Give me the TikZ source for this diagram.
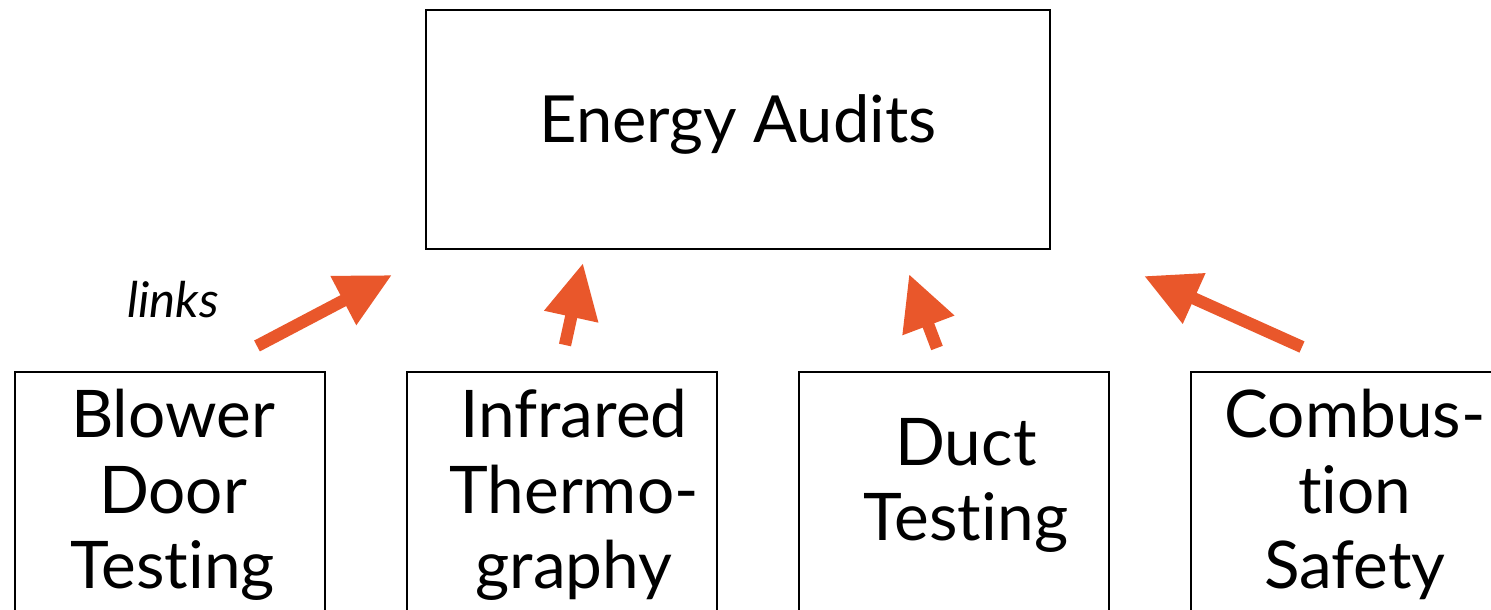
\documentclass[tikz,border=0pt]{standalone}
\usepackage{fontspec}
\setmainfont{Lato}[Ligatures=NoCommon]
\usetikzlibrary{arrows.meta}
\definecolor{linkorange}{HTML}{E9572B}
\newcommand{\ind}[1]{\hspace*{#1}}

\begin{document}
\begin{tikzpicture}

	\useasboundingbox (0,0) rectangle (14.91,-6.10);
	\clip (0,0) rectangle (14.91,-6.10);

	\tikzset{box/.style = {shape=rectangle,draw,line width=0.6pt,inner sep=0pt,align=center}}
	\tikzset{method/.style = {box,minimum width=3.10cm,minimum height=2.45cm,font=\fontsize{18.7}{21.6}\selectfont,text height=2.04cm,text depth=0.15cm}}
	\tikzset{link/.style = {-{Triangle[length=0.55cm,width=0.52cm]},line width=3.5pt,draw=linkorange}}

	\node[box,minimum width=6.24cm,minimum height=2.39cm,font=\fontsize{18.5}{22}\selectfont,text height=0.46cm,text depth=0.19cm] (audits) at (7.38,-1.295) {Energy Audits};

	\node[method] (blower) at (1.70,-4.945) {\ind{.06cm}Blower\\\ind{.06cm}Door\\\ind{.06cm}Testing};
	\node[method] (infrared) at (5.62,-4.945) {\ind{.24cm}Infrared\\\ind{.24cm}Thermo-\\\ind{.24cm}graphy};
	\node[method,text height=1.08cm] (duct) at (9.54,-4.945) {\ind{.24cm}Duct\\\ind{.24cm}Testing};
	\node[method] (combustion) at (13.46,-4.945) {\ind{.18cm}Combus-\\\ind{.18cm}tion\\\ind{.18cm}Safety};

	\node[anchor=base,font=\fontsize{14}{16}\selectfont\itshape] (links) at (1.73,-3.18) {links};

	\coordinate (t1) at (2.57,-3.46);
	\coordinate (h1) at (3.92,-2.75);
	\coordinate (t2) at (5.65,-3.45);
	\coordinate (h2) at (5.83,-2.63);
	\coordinate (t3) at (9.37,-3.48);
	\coordinate (h3) at (9.09,-2.74);
	\coordinate (t4) at (13.02,-3.47);
	\coordinate (h4) at (11.44,-2.76);

	\draw[link] (t1) -- (h1);
	\draw[link] (t2) -- (h2);
	\draw[link] (t3) -- (h3);
	\draw[link] (t4) -- (h4);
\end{tikzpicture}
\end{document}
